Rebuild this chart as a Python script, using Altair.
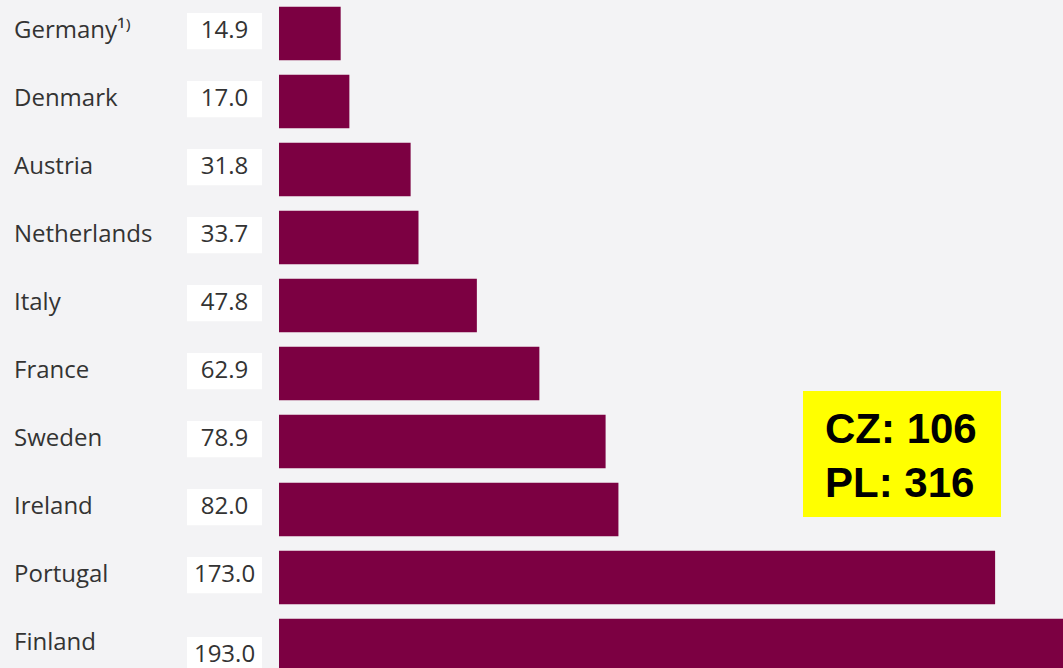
import altair as alt
import pandas as pd

countries = ["Germany¹⁾", "Denmark", "Austria", "Netherlands", "Italy",
             "France", "Sweden", "Ireland", "Portugal", "Finland"]
values = [14.9, 17.0, 31.8, 33.7, 47.8, 62.9, 78.9, 82.0, 173.0, 193.0]
value_labels = ["14.9", "17.0", "31.8", "33.7", "47.8", "62.9", "78.9", "82.0", "173.0", "193.0"]
note_lines = ["CZ: 106", "PL: 316"]

df = pd.DataFrame({
    "country": countries,
    "value": values,
    "label": value_labels,
    "row": list(range(len(countries))),
})

W, H = 1063, 668
BG = "#f3f3f5"
BAR = "#7c0042"
TXT = "#333333"
FONT = "Open Sans"

xscale = alt.Scale(domain=[-67.4, 189.4], nice=False, zero=False)
yscale = alt.Scale(domain=[-0.4926, 9.3309], reverse=True, nice=False, zero=False)

base = alt.Chart(df).transform_calculate(
    y0="datum.row - 0.395",
    y1="datum.row + 0.395",
    boxshift="datum.row == 9 ? 0.176 : 0",
    b0="datum.row - 0.035 - 0.265 + datum.boxshift",
    b1="datum.row - 0.035 + 0.265 + datum.boxshift",
    tc="datum.row - 0.035 + datum.boxshift",
    zero="0",
)

bars = base.mark_bar(color=BAR, clip=True).encode(
    x=alt.X("zero:Q", scale=xscale, axis=None),
    x2="value:Q",
    y=alt.Y("y0:Q", scale=yscale, axis=None),
    y2="y1:Q",
)

boxes = base.mark_rect(color="white").encode(
    x=alt.value(187),
    x2=alt.value(262),
    y=alt.Y("b0:Q", scale=yscale, axis=None),
    y2="b1:Q",
)

vals = base.mark_text(font=FONT, fontSize=24, color=TXT, align="center", baseline="middle").encode(
    x=alt.value(224.5),
    y=alt.Y("tc:Q", scale=yscale, axis=None),
    text="label:N",
)

names = base.mark_text(font=FONT, fontSize=24, color=TXT, align="left", baseline="middle", dy=-2).encode(
    x=alt.value(14),
    y=alt.Y("row:Q", scale=yscale, axis=None),
    text="country:N",
)

note_box = alt.Chart(pd.DataFrame({"a": [0]})).mark_rect(color="#ffff00").encode(
    x=alt.value(803), x2=alt.value(1001), y=alt.value(391), y2=alt.value(517)
)
note_df = pd.DataFrame({"t": note_lines, "i": [0, 1]})
note_text = alt.Chart(note_df).mark_text(
    font="Liberation Sans", fontWeight="bold", fontSize=42, color="black",
    align="left", baseline="alphabetic"
).transform_calculate(py="443 + 54 * datum.i").encode(
    x=alt.value(825),
    y=alt.Y("py:Q", scale=alt.Scale(domain=[0, H], range=[0, H], nice=False, zero=False), axis=None),
    text="t:N",
)

chart = alt.layer(bars, boxes, vals, names, note_box, note_text).resolve_scale(y="independent").properties(
    width=W, height=H, background=BG, padding=0, autosize="none"
).configure_view(stroke=None, fill=BG)

chart.save("out.html", embed_options={"renderer": "svg", "actions": False})
